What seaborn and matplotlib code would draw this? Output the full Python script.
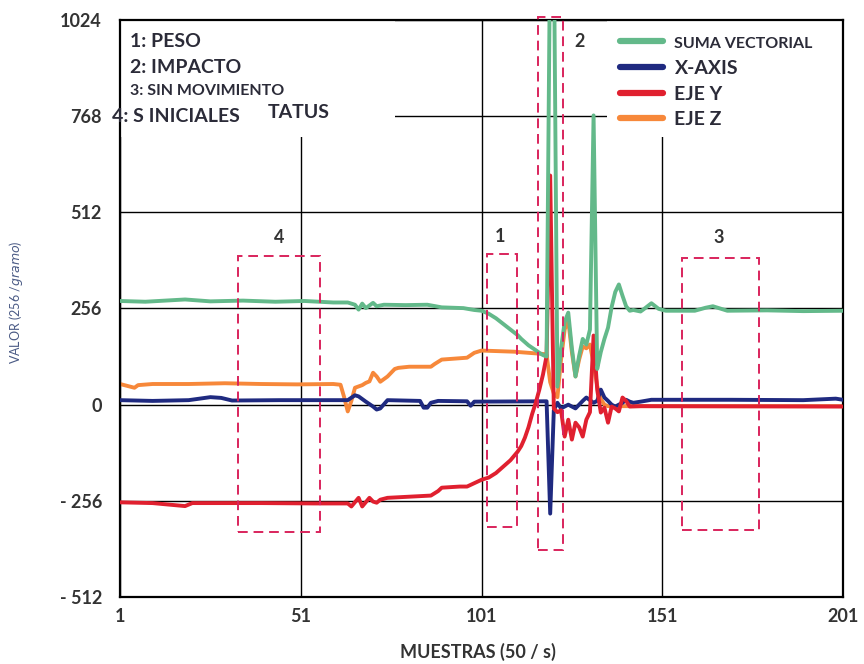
import pandas as pd
import seaborn as sns
import matplotlib.pyplot as plt
from matplotlib.patches import Rectangle

# Valores (muestra, valor)
suma_x = [1, 8, 19, 26, 35, 44, 52, 60, 64, 66, 67, 68, 69, 71, 72, 74, 80, 86, 90, 96,
          99, 101, 103, 105, 107, 109, 111, 112, 114, 116, 117, 118, 119, 120, 121, 122, 123, 124, 125, 126,
          127, 128, 129, 130, 131, 132, 133, 134, 135, 136, 137, 138, 139, 140, 141, 142, 143, 145, 146, 148,
          150, 152, 160, 163, 165, 167, 169, 180, 190, 201]
suma_y = [276, 274, 280, 275, 277, 274, 276, 272, 272, 266, 253, 269, 257, 271, 262, 266, 265, 266, 259, 257,
          252, 250, 242, 230, 215, 200, 185, 175, 158, 145, 138, 132, 128, 1250, 1250, 48, 150, 220, 245, 150,
          75, 130, 175, 160, 200, 770, 95, 140, 175, 205, 260, 300, 320, 290, 262, 250, 252, 248, 255, 270,
          255, 250, 250, 258, 262, 256, 250, 251, 249, 250]

ejex_x = [1, 10, 20, 26, 29, 32, 45, 64, 66, 67, 69, 71, 72, 73, 75, 84, 85, 86, 87, 89,
          97, 98, 99, 119, 120, 121, 122, 123, 124, 125, 126, 127, 128, 129, 130, 131, 132, 133, 134, 135,
          136, 137, 138, 139, 140, 141, 142, 143, 145, 148, 170, 190, 199, 201]
ejex_y = [12, 10, 12, 20, 18, 11, 12, 12, 25, 22, 8, -5, -13, -10, 12, 10, -8, -8, 5, 10,
          9, -3, 8, 9, -290, -15, 5, -10, -5, 0, -5, -10, 0, 10, 19, 12, 5, 10, 40, 19,
          10, 0, -5, 0, 5, 13, 8, 5, 8, 13, 13, 12, 16, 13]

ejey_x = [1, 10, 19, 21, 40, 55, 64, 65, 67, 68, 70, 71, 72, 73, 75, 87, 89, 90, 95, 97,
          101, 103, 105, 107, 109, 111, 112, 113, 114, 115, 116, 117, 118, 119, 120, 121, 122, 123, 124, 125,
          126, 127, 128, 129, 130, 131, 132, 133, 134, 135, 136, 137, 138, 139, 140, 141, 142, 145, 201]
ejey_y = [-260, -262, -270, -262, -262, -263, -263, -271, -248, -271, -248, -258, -261, -253, -248, -242, -230, -221, -218, -218,
          -200, -194, -182, -165, -148, -125, -110, -88, -60, -25, 5, 40, 80, 130, 610, -10, -20, -15, -85, -40,
          -93, -48, -60, -85, -40, -20, 184, 40, -21, -8, -48, -5, -10, -18, 19, 10, -5, -4, -5]

ejez_x = [1, 5, 6, 10, 20, 30, 40, 50, 60, 62, 63, 64, 65, 66, 68, 69, 70, 71, 72, 73,
          75, 77, 78, 81, 87, 88, 90, 97, 99, 101, 110, 118, 119, 120, 121, 122, 123, 124, 125, 126,
          127, 128, 129, 130, 131, 132, 133, 134, 135, 136, 145, 201]
ejez_y = [55, 45, 52, 55, 55, 57, 55, 54, 55, 53, 20, -18, 10, 45, 52, 58, 62, 85, 75, 61,
          75, 95, 98, 101, 101, 108, 120, 125, 138, 144, 141, 135, 133, 60, 30, 20, 120, 200, 225, 140,
          75, 120, 155, 150, 160, 110, 50, 15, 0, -4, -4, -4]

x_ticks = [1, 51, 101, 151, 201]
y_ticks = [-512, -256, 0, 256, 512, 768, 1024]
y_tick_labels = ['- 512', '- 256', '0', '256', '512', '768', '1024']

series = [
    ("SUMA VECTORIAL", suma_x, suma_y, "#63b98a", 5),
    ("X-AXIS", ejex_x, ejex_y, "#1f2a80", 3),
    ("EJE Y", ejey_x, ejey_y, "#e0202f", 4),
    ("EJE Z", ejez_x, ejez_y, "#f7883a", 2),
]

# zonas marcadas: etiqueta, x0, x1, y0, y1, posicion etiqueta
zonas = [
    ("4", 33.6, 56.3, -338, 397, 45.0, 445),
    ("1", 102.5, 110.8, -325, 402, 106.0, 447),
    ("2", 116.6, 123.5, -386, 1032, 128.0, 966),
    ("3", 156.5, 177.8, -333, 391, 166.7, 444),
]

sns.set_theme(style="white")
plt.rcParams['font.family'] = ['Lato', 'DejaVu Sans']
txt_color = "#2b2b38"

fig = plt.figure(figsize=(8.64, 6.64), dpi=100)
ax = fig.add_axes([0.1389, 0.1009, 0.8368, 0.869])

for name, xs, ys, color, z in series:
    df = pd.DataFrame({"muestra": xs, "valor": ys})
    sns.lineplot(data=df, x="muestra", y="valor", ax=ax, color=color, lw=2.8,
                 label=name, estimator=None, zorder=z)

ax.set_xlim(1, 201)
ax.set_ylim(-512, 1024)
ax.set_xticks(x_ticks)
ax.set_xticklabels([str(t) for t in x_ticks])
ax.set_yticks(y_ticks)
ax.set_yticklabels(y_tick_labels)
ax.tick_params(axis='both', length=0, labelsize=13, labelcolor="#333333")
ax.tick_params(axis='y', pad=13)
ax.tick_params(axis='x', pad=8)
for lab in ax.get_xticklabels() + ax.get_yticklabels():
    lab.set_fontweight('bold')

ax.set_axisbelow(True)
ax.grid(True, color="black", lw=1.0)
for sp in ax.spines.values():
    sp.set_color("black")
    sp.set_linewidth(1.6)

# fondos blancos del texto y la leyenda
ax.add_patch(Rectangle((0, 0.797), 0.38, 0.203, transform=ax.transAxes, fc="white", ec="none", zorder=1))
ax.add_patch(Rectangle((0.674, 0.797), 0.326, 0.203, transform=ax.transAxes, fc="white", ec="none", zorder=1))

for lab, x0, x1, y0, y1, lx, ly in zonas:
    ax.add_patch(Rectangle((x0, y0), x1 - x0, y1 - y0, fill=False, ec="#d9245c", lw=1.4,
                           ls=(0, (5, 3)), zorder=6, clip_on=False))
    ax.text(lx, ly, lab, fontsize=13, fontweight='bold', color="#333333", ha='center', va='center', zorder=7)

ax.text(0.0138, 0.962, "1: PESO", transform=ax.transAxes, fontsize=14, fontweight='bold', color=txt_color, va='center')
ax.text(0.0138, 0.9185, "2: IMPACTO", transform=ax.transAxes, fontsize=14, fontweight='bold', color=txt_color, va='center')
ax.text(0.0138, 0.877, "3: SIN MOVIMIENTO", transform=ax.transAxes, fontsize=11.5, fontweight='bold', color=txt_color, va='center')
ax.text(-0.011, 0.832, "4: S INICIALES", transform=ax.transAxes, fontsize=14, fontweight='bold', color=txt_color, va='center', clip_on=False)
ax.text(0.2047, 0.839, "TATUS", transform=ax.transAxes, fontsize=14, fontweight='bold', color=txt_color, va='center')

ax.set_xlabel("MUESTRAS (50 / s)", fontsize=13, fontweight='bold', color="#333333")
ax.xaxis.set_label_coords(0.495, -0.079)
ax.xaxis.label.set_va('top')
ax.set_ylabel("VALOR (256 /$\\it{gramo}$)", fontsize=9, color="#4a5a85")
ax.yaxis.set_label_coords(-0.131, 0.511)

leg = ax.legend(loc='upper left', bbox_to_anchor=(0.6916, 0.975), frameon=False,
                prop={'size': 14, 'weight': 'bold'}, handlelength=2.2, handletextpad=0.6,
                labelspacing=0.45, borderpad=0, borderaxespad=0)
for t in leg.get_texts():
    t.set_color(txt_color)
leg.get_texts()[0].set_fontsize(11.5)
for h in leg.legend_handles:
    h.set_linewidth(4.5)
leg.set_zorder(8)

fig.savefig("out.png", dpi=100)
